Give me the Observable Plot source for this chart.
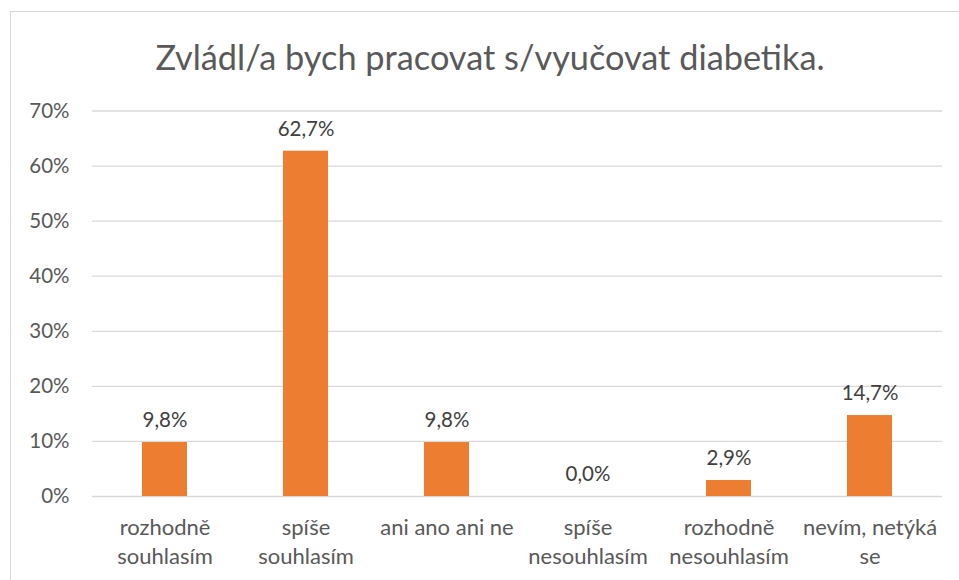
<!DOCTYPE html>
<html>
<head>
<meta charset="utf-8">
<script src="https://cdn.jsdelivr.net/npm/d3@7"></script>
<script src="https://cdn.jsdelivr.net/npm/@observablehq/plot@0.6"></script>
<style>
  html, body { margin: 0; padding: 0; background: #fff; }
  #wrap { position: relative; width: 959px; height: 580px; overflow: hidden; font-family: Lato, "Open Sans", sans-serif; }
  #frame { position: absolute; left: 10px; top: 11px; width: 980px; height: 600px; border: 1px solid #d9d9d9; box-sizing: border-box; }
  #title { position: absolute; left: 0; width: 980px; top: 35px; text-align: center; font-size: 34.3px; color: #595959; line-height: 44px; white-space: nowrap; }
  #plot { position: absolute; left: 0; top: 95px; }
</style>
</head>
<body>
<div id="wrap">
  <div id="frame"></div>
  <div id="title">Zvládl/a bych pracovat s/vyučovat diabetika.</div>
  <div id="plot"></div>
</div>
<script>
const categories = ["rozhodně souhlasím", "spíše souhlasím", "ani ano ani ne", "spíše nesouhlasím", "rozhodně nesouhlasím", "nevím, netýká se"];
const values = [9.8, 62.7, 9.8, 0.0, 2.9, 14.7];
const tickLabels = ["rozhodně\nsouhlasím", "spíše\nsouhlasím", "ani ano ani ne", "spíše\nnesouhlasím", "rozhodně\nnesouhlasím", "nevím, netýká\nse"];
const yTicks = [0, 10, 20, 30, 40, 50, 60, 70];

const data = categories.map((c, i) => ({cat: c, value: values[i]}));
const labelOf = new Map(categories.map((c, i) => [c, tickLabels[i]]));
const fmt = v => v.toFixed(1).replace(".", ",") + "%";

const chart = Plot.plot({
  width: 959,
  height: 485,
  marginLeft: 92,
  marginRight: 17,
  marginTop: 15.5,
  marginBottom: 84,
  style: { fontFamily: "Lato, 'Open Sans', sans-serif", color: "#595959", background: "transparent", overflow: "visible" },
  x: { domain: categories, paddingInner: 0.682, paddingOuter: 0.341 },
  y: { domain: [0, 70] },
  marks: [
    Plot.ruleY(yTicks, { stroke: "#d9d9d9", strokeWidth: 1.3 }),
    Plot.barY(data, { x: "cat", y: "value", fill: "#ED7D31" }),
    Plot.text(data, { x: "cat", y: "value", text: d => fmt(d.value), dy: -22, fontSize: 20.5, fill: "#404040" }),
    Plot.axisY({ ticks: yTicks, tickSize: 0, tickPadding: 23, tickFormat: d => d + "%", fontSize: 20.5, label: null }),
    Plot.axisX({ tickSize: 0, tickPadding: 18, tickFormat: d => labelOf.get(d), fontSize: 22, lineHeight: 1.32, label: null })
  ]
});
document.getElementById("plot").appendChild(chart);
</script>
</body>
</html>
